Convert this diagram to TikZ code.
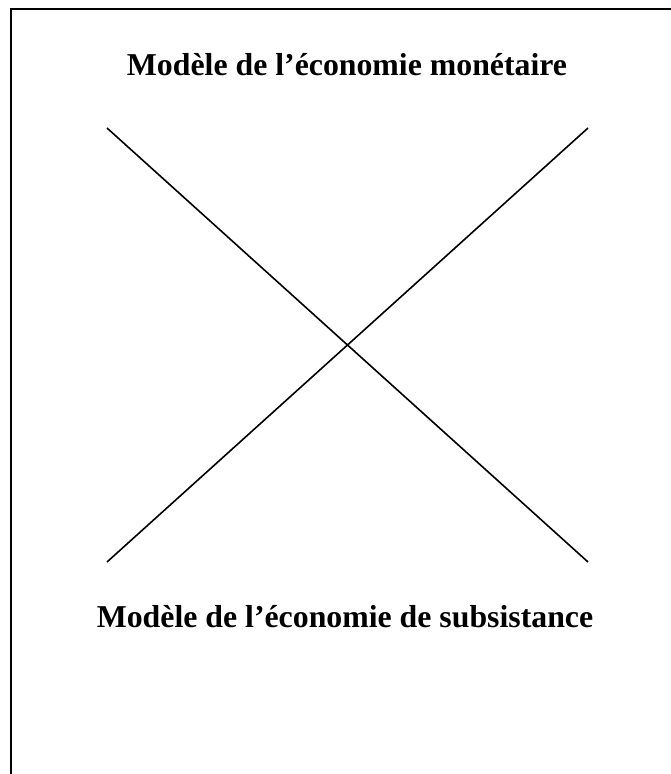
\documentclass[tikz,border=0pt]{standalone}
\usepackage{fontspec}
\setmainfont{Liberation Serif}
\begin{document}
\begin{tikzpicture}[x=1pt, y=-1pt,
			every node/.style={font=\fontsize{31.8}{36}\selectfont\bfseries, inner sep=0pt, anchor=base},
			cross/.style={line width=1.6pt}
			]
			\useasboundingbox (0,0) rectangle (671,774);
			
			% Frame
			\draw[line width=2pt] (11,774) -- (11,9) -- (671,9);
			
			% Titles
			\node (monetaire) at (347,75) {Modèle de l’économie monétaire};
			\node (subsistance) at (345,627) {Modèle de l’économie de subsistance};
			
			% Corners
			\coordinate (tl) at (107,128);
			\coordinate (tr) at (588,128);
			\coordinate (bl) at (107,562);
			\coordinate (br) at (588,562);
			
			% Cross
			\draw[cross] (tl) -- (br);
			\draw[cross] (tr) -- (bl);
			
		\end{tikzpicture}
\end{document}
